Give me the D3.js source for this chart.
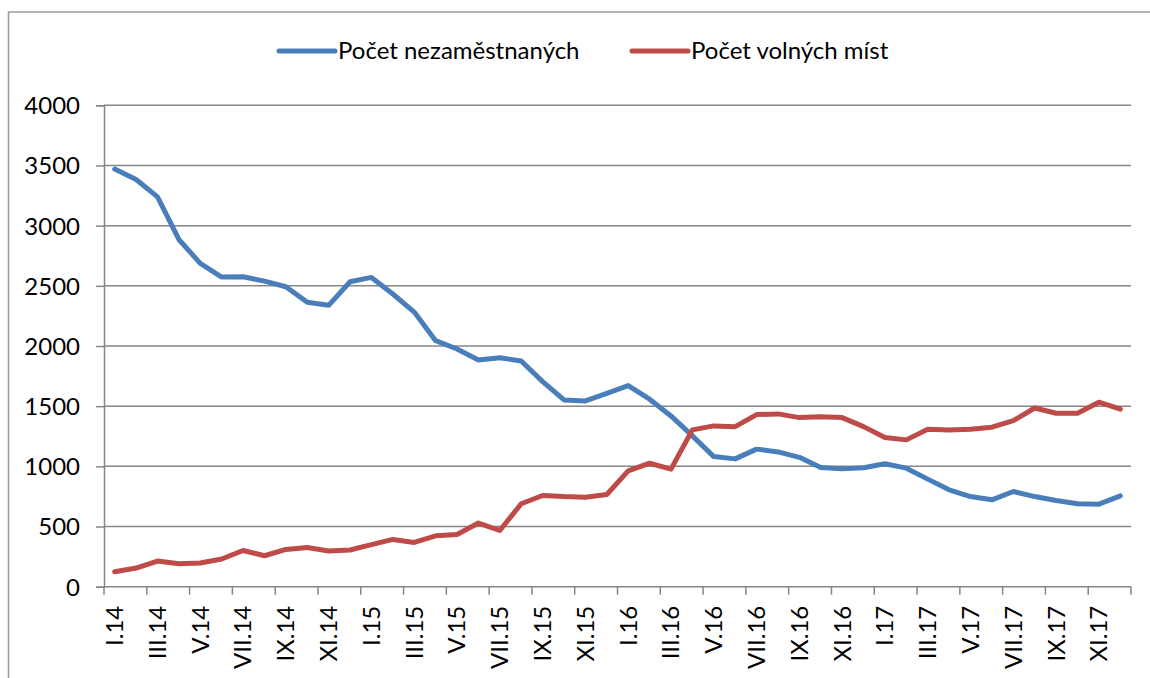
<!DOCTYPE html>
<html>
<head>
<meta charset="utf-8">
<script src="https://cdn.jsdelivr.net/npm/d3@7"></script>
<style>
    body { margin: 0; background: #fff; }
    text { font-family: Lato, "Liberation Sans", sans-serif; fill: #000; }
</style>
</head>
<body>
<div class="chart"></div>
<script>
// data
// data

var months = ["I", "II", "III", "IV", "V", "VI", "VII", "VIII", "IX", "X", "XI", "XII"];
var years = ["14", "15", "16", "17"];

var seriesNames = ["Počet nezaměstnaných", "Počet volných míst"];

var nezamestnani = [3470, 3383, 3239, 2885, 2686, 2573, 2575, 2539, 2492, 2363, 2338, 2534,
                    2570, 2432, 2282, 2044, 1975, 1884, 1903, 1876, 1704, 1552, 1544, 1607,
                    1671, 1558, 1419, 1253, 1081, 1062, 1143, 1120, 1075, 990, 979, 988,
                    1021, 985, 894, 805, 749, 722, 791, 749, 716, 689, 686, 755];

var volnaMista = [124, 155, 213, 191, 197, 230, 301, 257, 310, 326, 296, 305,
                  349, 393, 368, 423, 434, 529, 467, 689, 758, 749, 744, 766,
                  963, 1026, 977, 1303, 1336, 1330, 1430, 1436, 1405, 1413, 1405, 1330,
                  1239, 1220, 1309, 1303, 1309, 1325, 1380, 1485, 1441, 1441, 1533, 1475];

var yTicks = [0, 500, 1000, 1500, 2000, 2500, 3000, 3500, 4000];

var colors = ["#4a7ebb", "#be4b48"];

// build category labels
var categories = [];
years.forEach(function(y) {
    months.forEach(function(m) { categories.push(m + "." + y); });
});

var width = 1150,
    height = 678;

// note: "top" is taken by window.top, so plot* names
var plotLeft = 104, plotRight = 1131, plotTop = 105.3, plotBottom = 586.7;

var svg = d3.select(".chart").append("svg")
    .attr("width", width)
    .attr("height", height);

// outer frame
svg.append("rect")
    .attr("x", 8.5)
    .attr("y", 12)
    .attr("width", 1160)
    .attr("height", 700)
    .attr("fill", "none")
    .attr("stroke", "#9a9a9a")
    .attr("stroke-width", 1.5);

var x = d3.scaleBand()
    .domain(categories)
    .range([plotLeft, plotRight]);

var y = d3.scaleLinear()
    .domain([0, 4000])
    .range([plotBottom, plotTop]);

// horizontal grid
svg.append("g")
    .selectAll("line")
    .data(yTicks.slice(1))
    .enter().append("line")
    .attr("x1", plotLeft)
    .attr("x2", plotRight)
    .attr("y1", function(d) { return y(d); })
    .attr("y2", function(d) { return y(d); })
    .attr("stroke", "#868686")
    .attr("stroke-width", 1.5);

// y axis
var yAxis = svg.append("g")
    .attr("transform", "translate(" + plotLeft + ",0)")
    .call(d3.axisLeft(y).tickValues(yTicks).tickSize(8).tickPadding(16).tickFormat(d3.format("d")));

yAxis.select(".domain").attr("stroke", "#868686").attr("stroke-width", 1.5);
yAxis.selectAll(".tick line").attr("stroke", "#868686").attr("stroke-width", 1.5);
yAxis.selectAll("text")
    .style("font-size", "24px")
    .attr("font-family", null)
    .attr("dy", "0.35em");

// x axis, tick every second category
var tickPos = [];
for (var i = 0; i <= categories.length; i += 2)
    tickPos.push(plotLeft + i * x.bandwidth());

var xAxis = svg.append("g");

xAxis.append("line")
    .attr("x1", plotLeft)
    .attr("x2", plotRight)
    .attr("y1", plotBottom)
    .attr("y2", plotBottom)
    .attr("stroke", "#868686")
    .attr("stroke-width", 1.5);

xAxis.selectAll(".xtick")
    .data(tickPos)
    .enter().append("line")
    .attr("class", "xtick")
    .attr("x1", function(d) { return d; })
    .attr("x2", function(d) { return d; })
    .attr("y1", plotBottom)
    .attr("y2", plotBottom + 8)
    .attr("stroke", "#868686")
    .attr("stroke-width", 1.5);

xAxis.selectAll(".xlabel")
    .data(categories.filter(function(d, i) { return i % 2 == 0; }))
    .enter().append("text")
    .attr("class", "xlabel")
    .attr("transform", function(d) {
        return "translate(" + (x(d) + x.bandwidth() / 2) + "," + (plotBottom + 19) + ") rotate(-90)";
    })
    .attr("text-anchor", "end")
    .attr("dy", "0.35em")
    .style("font-size", "24px")
    .text(function(d) { return d; });

// lines
var line = d3.line()
    .x(function(d, i) { return x(categories[i]) + x.bandwidth() / 2; })
    .y(function(d) { return y(d); });

[nezamestnani, volnaMista].forEach(function(s, k) {
    svg.append("path")
        .datum(s)
        .attr("d", line)
        .attr("fill", "none")
        .attr("stroke", colors[k])
        .attr("stroke-width", 5)
        .attr("stroke-linejoin", "round")
        .attr("stroke-linecap", "round");
});

// legend
var legendX = [279, 632];

var legend = svg.selectAll(".legend")
    .data(seriesNames)
    .enter().append("g")
    .attr("class", "legend")
    .attr("transform", function(d, i) { return "translate(" + legendX[i] + ",51)"; });

legend.append("line")
    .attr("x1", 0)
    .attr("x2", 56)
    .attr("stroke", function(d, i) { return colors[i]; })
    .attr("stroke-width", 5)
    .attr("stroke-linecap", "round");

legend.append("text")
    .attr("x", 59)
    .attr("dy", "0.35em")
    .style("font-size", "24px")
    .text(function(d) { return d; });
</script>
</body>
</html>
